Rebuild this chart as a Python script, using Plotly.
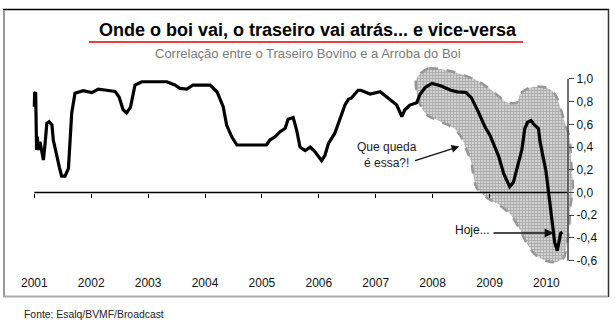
import plotly.graph_objects as go

# ---------------- data ----------------
dates = [2001.000, 2001.006, 2001.024, 2001.030, 2001.040, 2001.053, 2001.070, 2001.100, 2001.130,
         2001.160, 2001.190, 2001.220, 2001.260, 2001.310, 2001.334, 2001.392, 2001.452, 2001.480,
         2001.540, 2001.600, 2001.627, 2001.657, 2001.715, 2001.860, 2002.010, 2002.125, 2002.270,
         2002.420, 2002.490, 2002.560, 2002.620, 2002.690, 2002.770, 2002.890, 2003.330, 2003.470,
         2003.560, 2003.680, 2003.790, 2003.910, 2004.090, 2004.210, 2004.320, 2004.380, 2004.470,
         2004.560, 2005.080, 2005.140, 2005.230, 2005.320, 2005.410, 2005.460, 2005.550, 2005.610,
         2005.670, 2005.760, 2005.850, 2005.930, 2006.050, 2006.110, 2006.170, 2006.280, 2006.370,
         2006.460, 2006.520, 2006.570, 2006.690, 2006.740, 2006.900, 2007.080, 2007.190, 2007.370,
         2007.460, 2007.510, 2007.600, 2007.720, 2007.780, 2007.870, 2007.990, 2008.140, 2008.320,
         2008.440, 2008.590, 2008.680, 2008.800, 2008.920, 2009.010, 2009.160, 2009.250, 2009.355,
         2009.420, 2009.490, 2009.570, 2009.620, 2009.670, 2009.730, 2009.790, 2009.860, 2009.890,
         2009.950, 2009.990, 2010.050, 2010.100, 2010.145, 2010.190, 2010.220, 2010.250, 2010.280]
correl = [0.755, 0.873, 0.879, 0.400, 0.374, 0.491, 0.374, 0.447, 0.374,
          0.286, 0.433, 0.609, 0.623, 0.594, 0.462, 0.315, 0.198, 0.145,
          0.145, 0.213, 0.403, 0.697, 0.873, 0.896, 0.879, 0.910, 0.900,
          0.890, 0.840, 0.730, 0.700, 0.750, 0.946, 0.975, 0.975, 0.946,
          0.917, 0.910, 0.946, 0.946, 0.946, 0.887, 0.755, 0.594, 0.490,
          0.418, 0.418, 0.462, 0.490, 0.535, 0.565, 0.644, 0.660, 0.550,
          0.400, 0.370, 0.400, 0.360, 0.280, 0.330, 0.433, 0.520, 0.640,
          0.770, 0.820, 0.830, 0.900, 0.900, 0.867, 0.887, 0.843, 0.770,
          0.667, 0.726, 0.770, 0.790, 0.865, 0.925, 0.960, 0.940, 0.900,
          0.886, 0.880, 0.835, 0.714, 0.578, 0.503, 0.320, 0.166, 0.050,
          0.090, 0.226, 0.380, 0.563, 0.618, 0.633, 0.594, 0.563, 0.443,
          0.292, 0.195, -0.046, -0.256, -0.438, -0.513, -0.438, -0.360, -0.347]

cloud_x = [2007.784, 2007.933, 2008.172, 2008.469, 2008.768, 2009.005, 2009.184, 2009.304, 2009.483,
           2009.541, 2009.661, 2009.840, 2010.049, 2010.167, 2010.244, 2010.316, 2010.406, 2010.436,
           2010.466, 2010.427, 2010.397, 2010.355, 2010.306, 2010.186, 2010.005, 2009.794, 2009.645,
           2009.524, 2009.374, 2009.163, 2008.953, 2008.771, 2008.712, 2008.682, 2008.590, 2008.501,
           2008.380, 2008.139, 2007.898, 2007.779, 2007.726, 2007.708, 2007.784]
cloud_y = [1.047, 1.092, 1.083, 1.047, 0.988, 0.913, 0.838, 0.793, 0.793,
           0.868, 0.913, 0.934, 0.913, 0.853, 0.748, 0.629, 0.480, 0.271,
           0.033, -0.106, -0.317, -0.467, -0.573, -0.612, -0.603, -0.543, -0.438,
           -0.317, -0.196, -0.106, -0.046, 0.045, 0.165, 0.262, 0.383, 0.489,
           0.563, 0.624, 0.684, 0.775, 0.858, 0.990, 1.047]

year_ticks = [2001, 2002, 2003, 2004, 2005, 2006, 2007, 2008, 2009, 2010]
year_labels = ["2001", "2002", "2003", "2004", "2005", "2006", "2007", "2008", "2009", "2010"]
y_ticks = [-0.6, -0.4, -0.2, 0.0, 0.2, 0.4, 0.6, 0.8, 1.0]
y_labels = ["-0,6", "-0,4", "-0,2", "0,0", "0,2", "0,4", "0,6", "0,8", "1,0"]

title = "Onde o boi vai, o traseiro vai atrás... e vice-versa"
subtitle = "Correlação entre o Traseiro Bovino e a Arroba do Boi"
source = "Fonte: Esalq/BVMF/Broadcast"

# ---------------- geometry ----------------
W, H = 615, 324
L, R, T, B = 20, 576, 65, 268          # plot area in pixels
X0, PXY = 34.3, 56.9                   # pixel of 2001, pixels per year
Y0, PXV = 192.5, 113.6                 # pixel of 0.0, pixels per unit
xr = [2001 + (L - X0) / PXY, 2001 + (R - X0) / PXY]
yr = [(Y0 - B) / PXV, (Y0 - T) / PXV]
AXIS_PX = 568

def px(xp):
    return (xp - L) / (R - L)

def py(yp):
    return (B - yp) / (B - T)

FONT = "Arial, 'Liberation Sans', sans-serif"

fig = go.Figure()

fig.add_trace(go.Scatter(
    x=cloud_x, y=cloud_y, mode="lines", fill="toself",
    line=dict(color="#979797", width=2.5, dash="dash", shape="spline", smoothing=0.8),
    fillcolor="#bdbdbd",
    fillpattern=dict(shape="+", size=3, solidity=0.45, fgcolor="#7c7c7c", bgcolor="#d2d2d2"),
    hoverinfo="skip", showlegend=False))

fig.add_trace(go.Scatter(
    x=dates, y=correl, mode="lines",
    line=dict(color="black", width=3.2),
    showlegend=False))

# invisible trace on overlay axis to activate it
fig.add_trace(go.Scatter(x=[dates[0]], y=[correl[0]], xaxis="x2", mode="markers",
                         marker=dict(opacity=0), showlegend=False, hoverinfo="skip"))

zero_pos = (0 - yr[0]) / (yr[1] - yr[0])

fig.update_layout(
    width=W, height=H,
    margin=dict(l=L, r=W - R, t=T, b=H - B, pad=0),
    paper_bgcolor="white", plot_bgcolor="white",
    font=dict(family=FONT, size=12, color="#111"),
    xaxis=dict(range=xr, tickvals=year_ticks, ticktext=year_labels,
               showgrid=False, zeroline=False, showline=False, ticks="",
               tickfont=dict(size=12, color="#111"), ticklabelstandoff=6, fixedrange=True),
    xaxis2=dict(range=xr, overlaying="x", anchor="free", position=zero_pos,
                tickvals=year_ticks[:-1], showticklabels=False,
                ticks="outside", ticklen=4, tickwidth=1.2, tickcolor="black",
                showgrid=False, zeroline=False, showline=False),
    yaxis=dict(range=yr, side="right", anchor="free", position=px(AXIS_PX),
               tickvals=y_ticks, ticktext=y_labels,
               ticks="outside", ticklen=5, tickwidth=1.2, tickcolor="#444",
               showgrid=False, zeroline=False, showline=False,
               tickfont=dict(size=12, color="#111")),
    title=dict(text="<b>" + title + "</b>", x=307.5 / W, xanchor="center", xref="container",
               y=1 - 29.5 / H, yanchor="middle", yref="container",
               font=dict(size=18, color="black", family=FONT)),
)

shapes = []
# zero line
shapes.append(dict(type="line", xref="x", yref="y", x0=year_ticks[0], x1=xr[0] + (AXIS_PX - L) / PXY,
                   y0=0, y1=0, line=dict(color="black", width=1.5)))
# y axis line
shapes.append(dict(type="line", xref="paper", yref="y", x0=px(AXIS_PX), x1=px(AXIS_PX),
                   y0=y_ticks[0], y1=y_ticks[-1], line=dict(color="#444", width=1.5)))
# frame
shapes.append(dict(type="line", xref="paper", yref="paper", x0=px(3), x1=px(609), y0=py(9.5), y1=py(9.5),
                   line=dict(color="black", width=1.5)))
shapes.append(dict(type="line", xref="paper", yref="paper", x0=px(608.5), x1=px(608.5), y0=py(9), y1=py(297),
                   line=dict(color="#333", width=1.5)))
shapes.append(dict(type="line", xref="paper", yref="paper", x0=px(4), x1=px(4), y0=py(10), y1=py(297),
                   line=dict(color="#999", width=2)))
shapes.append(dict(type="line", xref="paper", yref="paper", x0=px(3), x1=px(608), y0=py(296.5), y1=py(296.5),
                   line=dict(color="#aaa", width=2)))
# red underline of title
shapes.append(dict(type="line", xref="paper", yref="paper", x0=px(89), x1=px(523), y0=py(42), y1=py(42),
                   line=dict(color="#dd0000", width=1.5)))
fig.update_layout(shapes=shapes)

ann = []
ann.append(dict(xref="paper", yref="paper", x=px(307.5), y=py(53), text=subtitle, showarrow=False,
                xanchor="center", yanchor="middle", font=dict(size=13, color="#7a7a7a")))
ann.append(dict(xref="paper", yref="paper", x=px(22), y=py(314), text=source, showarrow=False,
                xanchor="left", yanchor="middle", font=dict(size=10.4, color="#222")))
# "Que queda" text + arrow
ann.append(dict(xref="x", yref="y", x=2001 + (387 - X0) / PXY, y=(Y0 - 155) / PXV,
                text="Que queda<br>é essa?!", showarrow=False, xanchor="center", yanchor="middle",
                font=dict(size=12, color="#1a1a2a")))
ann.append(dict(xref="x", yref="y", x=2001 + (459.3 - X0) / PXY, y=(Y0 - 146.4) / PXV, text="",
                showarrow=True, ax=-45.7, ay=14.6, arrowhead=2, arrowsize=1.2, arrowwidth=1.3,
                arrowcolor="#111", standoff=0))
# "Hoje..." text + arrow
ann.append(dict(xref="x", yref="y", x=2001 + (492 - X0) / PXY, y=(Y0 - 230) / PXV,
                text="Hoje...", showarrow=False, xanchor="right", yanchor="middle",
                font=dict(size=12, color="#111")))
ann.append(dict(xref="x", yref="y", x=2001 + (553.6 - X0) / PXY, y=(Y0 - 233) / PXV, text="",
                showarrow=True, ax=-61.6, ay=0, arrowhead=2, arrowsize=1.2, arrowwidth=1.5,
                arrowcolor="#111", standoff=0))
fig.update_layout(annotations=ann)

fig.write_html("out.html")
